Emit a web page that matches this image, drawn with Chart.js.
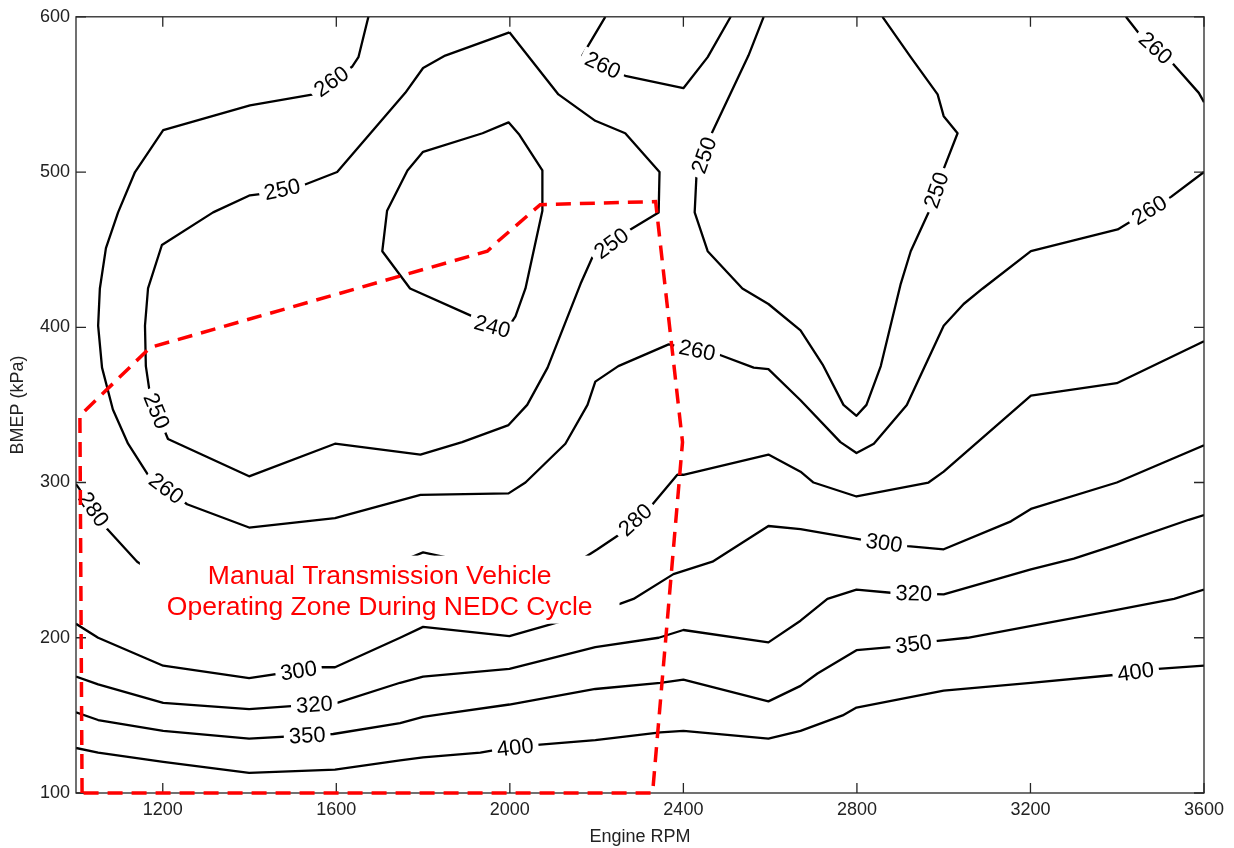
<!DOCTYPE html>
<html>
<head>
<meta charset="utf-8">
<script src="https://cdn.jsdelivr.net/npm/chart.js@4.4.1/dist/chart.umd.min.js"></script>
<style>
  html, body { margin: 0; padding: 0; background: #fff; }
</style>
</head>
<body>
<canvas id="bsfc" width="1234" height="848"></canvas>
<script>
// BSFC contour map (g/kWh) - engine speed vs BMEP
const xTicks = [1200, 1600, 2000, 2400, 2800, 3200, 3600];
const yTicks = [100, 200, 300, 400, 500, 600];

// each contour line: [rpm, kPa] pairs
const c260a = [[1674,600],[1651,574],[1637,568],[1547,550],[1401,543],[1201,527],[1136,500],[1097,474],[1069,451],[1055,425],[1051,401],[1060,374],[1085,347],[1120,325],[1166,305],[1256,286],[1399,271],[1597,277],[1794,292],[1997,293],[2036,300],[2128,325],[2179,350],[2197,365],[2250,375],[2366,389],[2486,382],[2562,374],[2596,373],[2670,353],[2762,326],[2799,319],[2839,325],[2915,350],[3000,401],[3046,415],[3090,425],[3201,449],[3401,463],[3524,484],[3600,500]];
const c250a = [[1999,590],[1851,575],[1800,567],[1759,551],[1602,500],[1528,492],[1429,486],[1401,485],[1316,474],[1198,453],[1166,425],[1159,401],[1161,375],[1171,356],[1212,328],[1399,304],[1597,325],[1794,318],[1890,326],[1997,337],[2040,350],[2087,374],[2163,428],[2190,445],[2278,463],[2343,474],[2345,500],[2266,525],[2197,533],[2112,550],[1999,590]];
const c240 = [[1937,525],[1997,532],[2022,524],[2075,501],[2075,475],[2036,425],[2013,407],[1992,398],[1927,403],[1914,407],[1770,425],[1706,449],[1717,475],[1764,501],[1800,513],[1937,525]];
const c260b = [[2220,600],[2167,575],[2266,562],[2400,554],[2456,574],[2509,600]];
const c250b = [[2585,600],[2550,575],[2467,526],[2430,497],[2426,474],[2456,449],[2536,425],[2596,415],[2670,398],[2721,376],[2769,350],[2799,343],[2822,350],[2855,375],[2901,428],[2924,449],[2965,474],[3000,502],[3032,525],[3000,536],[2986,550],[2924,574],[2859,600]];
const c260c = [[3420,600],[3448,590],[3531,569],[3588,551],[3600,545]];
const c280 = [[1000,299],[1072,270],[1141,249],[1201,238],[1399,233],[1597,238],[1747,249],[1800,255],[1851,252],[1999,239],[2117,243],[2174,252],[2202,257],[2250,266],[2329,286],[2386,305],[2400,305],[2596,318],[2670,307],[2700,300],[2799,291],[2965,300],[3000,307],[3201,356],[3399,364],[3600,391]];
const c300 = [[1000,209],[1051,200],[1201,182],[1399,174],[1567,181],[1597,181],[1747,200],[1800,207],[1999,201],[2098,209],[2255,222],[2285,225],[2377,241],[2467,249],[2596,272],[2670,270],[2813,263],[2917,259],[3000,257],[3155,275],[3201,283],[3399,300],[3600,324]];
const c320 = [[1000,175],[1051,170],[1201,158],[1399,154],[1602,158],[1747,171],[1800,175],[1999,180],[2197,194],[2343,200],[2400,205],[2596,197],[2670,211],[2732,225],[2799,231],[2878,229],[3000,228],[3201,244],[3300,251],[3399,260],[3565,276],[3600,279]];
const c350 = [[1000,152],[1051,147],[1201,140],[1399,135],[1593,138],[1747,145],[1800,149],[1847,151],[1999,157],[2197,167],[2347,171],[2400,173],[2596,159],[2670,169],[2709,177],[2799,192],[2878,194],[2986,198],[3055,200],[3399,218],[3531,225],[3600,231]];
const c400 = [[1000,129],[1051,126],[1201,120],[1399,113],[1597,115],[1747,121],[1800,123],[1932,126],[1971,128],[2063,131],[2197,134],[2347,139],[2400,140],[2596,135],[2670,140],[2767,150],[2799,155],[3000,166],[3201,171],[3392,176],[3494,180],[3600,182]];

const contourLines = [c260a, c250a, c240, c260b, c250b, c260c, c280, c300, c320, c350, c400];
const contourLevels = [260, 250, 240, 260, 250, 260, 280, 300, 320, 350, 400];

// inline labels: which line, and where along it
const labelLine = [0, 0, 0, 0, 1, 1, 1, 2, 3, 4, 4, 5, 6, 6, 7, 7, 8, 8, 9, 9, 10, 10];
const labelRpm  = [1592, 1205, 2433, 3475, 1475, 1185, 2234, 1960, 2213, 2446, 2986, 3489, 1037, 2292, 1514, 2862, 1549, 2931, 1533, 2931, 2013, 3443];
const labelBmep = [557, 295, 387, 475, 489, 346, 454, 401, 568, 511, 488, 580, 282, 275, 177, 260, 158, 228, 136, 195, 128, 177];

// NEDC operating zone outline
const nedcZone = [[1014,100],[1009,343],[1171,387],[1948,449],[1971,455],[2070,479],[2336,481],[2398,326],[2329,100],[1014,100]];
const noteLines = ['Manual Transmission Vehicle', 'Operating Zone During NEDC Cycle'];
const notePos = [1700, 231];

const FONT = "'Liberation Sans', Helvetica, Arial, sans-serif";
const AXIS_COLOR = '#262626';

function toPoints(pairs) {
    return pairs.map(p => ({x: p[0], y: p[1]}));
}

function drawContourLabels(chart) {
    const ctx = chart.ctx;
    const xs = chart.scales.x, ys = chart.scales.y;
    ctx.save();
    ctx.font = '22px ' + FONT;
    labelLine.forEach((li, i) => {
        const px = xs.getPixelForValue(labelRpm[i]);
        const py = ys.getPixelForValue(labelBmep[i]);
        const pts = contourLines[li].map(p => [xs.getPixelForValue(p[0]), ys.getPixelForValue(p[1])]);
        let best = null;
        for (let k = 0; k < pts.length - 1; k++) {
            const [x1, y1] = pts[k], [x2, y2] = pts[k + 1];
            const dx = x2 - x1, dy = y2 - y1, len2 = dx * dx + dy * dy;
            let t = len2 ? ((px - x1) * dx + (py - y1) * dy) / len2 : 0;
            t = Math.max(0, Math.min(1, t));
            const qx = x1 + t * dx, qy = y1 + t * dy;
            const d = Math.hypot(px - qx, py - qy);
            if (!best || d < best.d) best = {d, qx, qy, a: Math.atan2(dy, dx)};
        }
        let a = best.a;
        if (a > Math.PI / 2) a -= Math.PI;
        else if (a < -Math.PI / 2) a += Math.PI;
        const text = String(contourLevels[li]);
        const w = ctx.measureText(text).width;
        ctx.save();
        ctx.translate(best.qx, best.qy);
        ctx.rotate(a);
        ctx.fillStyle = '#fff';
        ctx.fillRect(-w / 2 - 5, -10, w + 10, 20);
        ctx.fillStyle = '#000';
        ctx.textAlign = 'center';
        ctx.textBaseline = 'middle';
        ctx.fillText(text, 0, 1);
        ctx.restore();
    });
    ctx.restore();
}

function drawNote(chart) {
    const ctx = chart.ctx;
    const cx = chart.scales.x.getPixelForValue(notePos[0]);
    const cy = chart.scales.y.getPixelForValue(notePos[1]);
    ctx.save();
    ctx.font = '26.5px ' + FONT;
    const w = Math.max(...noteLines.map(t => ctx.measureText(t).width));
    ctx.fillStyle = '#fff';
    ctx.fillRect(cx - w / 2 - 27, cy - 34, w + 54, 68);
    ctx.fillStyle = '#ff0000';
    ctx.textAlign = 'center';
    ctx.textBaseline = 'alphabetic';
    ctx.fillText(noteLines[0], cx, cy - 6);
    ctx.fillText(noteLines[1], cx, cy + 25);
    ctx.restore();
}

function drawFrame(chart) {
    const ctx = chart.ctx;
    const {left, right, top, bottom} = chart.chartArea;
    const xs = chart.scales.x, ys = chart.scales.y;
    ctx.save();
    ctx.strokeStyle = AXIS_COLOR;
    ctx.lineWidth = 1.3;
    ctx.strokeRect(left, top, right - left, bottom - top);
    ctx.beginPath();
    xs.ticks.forEach(t => {
        const x = xs.getPixelForValue(t.value);
        ctx.moveTo(x, bottom); ctx.lineTo(x, bottom - 10);
        ctx.moveTo(x, top); ctx.lineTo(x, top + 10);
    });
    ys.ticks.forEach(t => {
        const y = ys.getPixelForValue(t.value);
        ctx.moveTo(left, y); ctx.lineTo(left + 10, y);
        ctx.moveTo(right, y); ctx.lineTo(right - 10, y);
    });
    ctx.stroke();
    ctx.restore();
}

const overlay = {
    id: 'overlay',
    // dataset 0 (red zone) is drawn last, so labels and frame go just before it
    beforeDatasetDraw(chart, args) {
        if (args.index !== 0) return;
        drawContourLabels(chart);
        drawNote(chart);
        drawFrame(chart);
    }
};

const datasets = [{
    data: toPoints(nedcZone),
    borderColor: '#ff0000',
    borderWidth: 3.5,
    borderDash: [15, 9],
    clip: 6
}].concat(contourLines.map(line => ({
    data: toPoints(line),
    borderColor: '#000',
    borderWidth: 2.3,
    borderJoinStyle: 'round'
})));

new Chart(document.getElementById('bsfc'), {
    type: 'scatter',
    data: {datasets: datasets},
    plugins: [overlay],
    options: {
        responsive: false,
        animation: false,
        devicePixelRatio: 1,
        showLine: true,
        layout: {padding: {top: 13, right: 30, left: 0, bottom: 0}},
        elements: {
            point: {radius: 0, hoverRadius: 0},
            line: {tension: 0, fill: false}
        },
        scales: {
            x: {
                type: 'linear',
                min: 1000,
                max: 3600,
                afterBuildTicks: (scale) => { scale.ticks = xTicks.map(v => ({value: v})); },
                afterFit: (scale) => { scale.height = 55; },
                grid: {display: false, drawTicks: false},
                border: {display: false},
                ticks: {
                    padding: 6,
                    color: '#222',
                    maxRotation: 0,
                    callback: (value) => String(value),
                    font: {family: FONT, size: 18}
                },
                title: {
                    display: true,
                    text: 'Engine RPM',
                    color: '#222',
                    padding: {top: 4, bottom: 0},
                    font: {family: FONT, size: 18}
                }
            },
            y: {
                type: 'linear',
                min: 100,
                max: 600,
                afterBuildTicks: (scale) => { scale.ticks = yTicks.map(v => ({value: v})); },
                afterFit: (scale) => { scale.width = 76; },
                grid: {display: false, drawTicks: false},
                border: {display: false},
                ticks: {
                    padding: 6,
                    color: '#222',
                    callback: (value) => String(value),
                    font: {family: FONT, size: 18}
                },
                title: {
                    display: true,
                    text: 'BMEP (kPa)',
                    color: '#222',
                    padding: {top: 7, bottom: 0},
                    font: {family: FONT, size: 18}
                }
            }
        },
        plugins: {
            legend: {display: false},
            tooltip: {enabled: false}
        }
    }
});
</script>
</body>
</html>
